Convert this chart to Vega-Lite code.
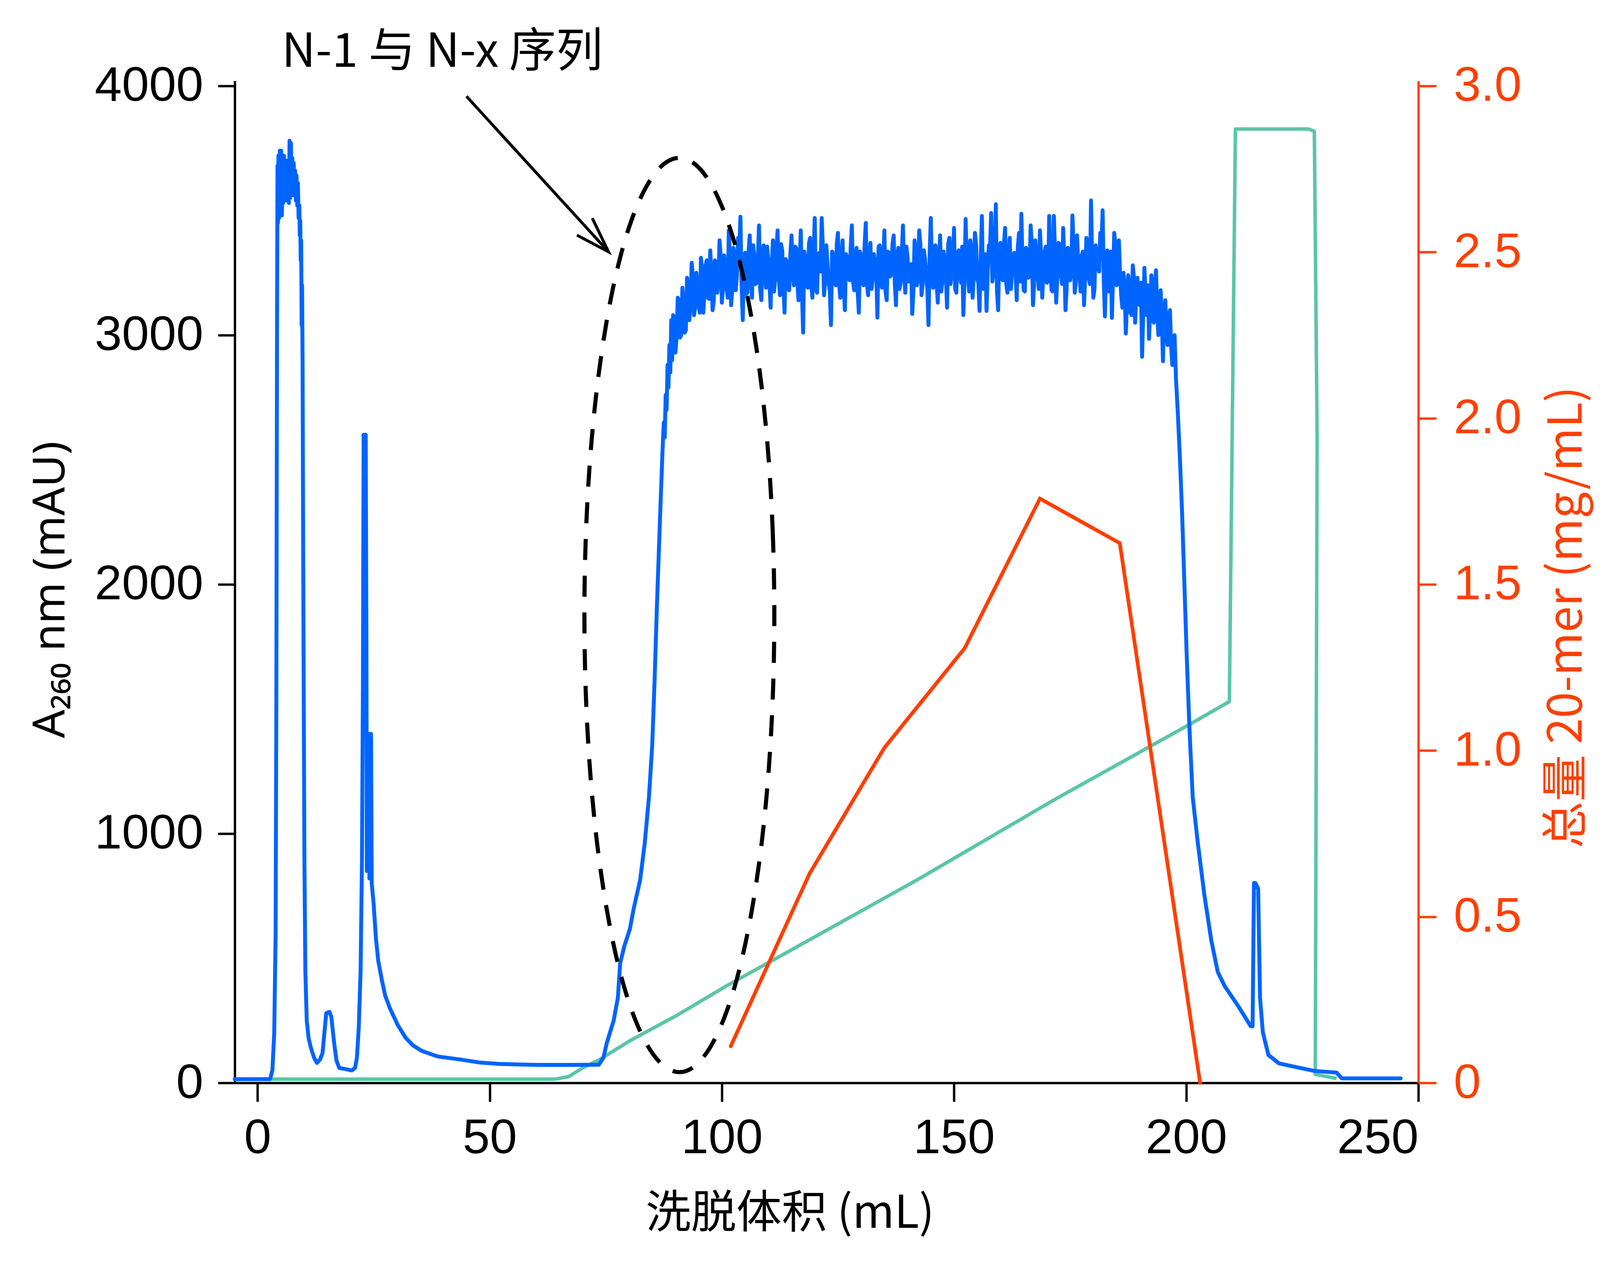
{
"$schema": "https://vega.github.io/schema/vega-lite/v6.json",
"width": 3030, "height": 2565,
"autosize": {"type": "none"},
"padding": {"left": 601, "top": 207, "right": 465, "bottom": 479},
"background": "white",
"config": {"view": {"stroke": null}, "axis": {"grid": false}},
"datasets": {
"blue": [
{"x":-4.9,"y":15},{"x":2.7,"y":15},{"x":3.2,"y":50},{"x":3.6,"y":200},{"x":3.9,"y":600},{"x":4.05,"y":1500},{"x":4.2,"y":3000},{"x":4.3,"y":3680},{"x":4.4,"y":3450},{"x":4.5,"y":3720},{"x":4.65,"y":3470},{"x":4.8,"y":3740},{"x":4.95,"y":3500},{"x":5.1,"y":3740},{"x":5.25,"y":3480},{"x":5.4,"y":3700},{"x":5.55,"y":3530},{"x":5.7,"y":3720},{"x":5.85,"y":3560},{"x":6.0,"y":3680},{"x":6.15,"y":3540},{"x":6.3,"y":3700},{"x":6.45,"y":3580},{"x":6.6,"y":3660},{"x":6.75,"y":3530},{"x":6.9,"y":3780},{"x":7.05,"y":3550},{"x":7.2,"y":3770},{"x":7.35,"y":3560},{"x":7.5,"y":3710},{"x":7.65,"y":3580},{"x":7.8,"y":3690},{"x":7.95,"y":3560},{"x":8.1,"y":3660},{"x":8.25,"y":3540},{"x":8.4,"y":3640},{"x":8.55,"y":3520},{"x":8.7,"y":3610},{"x":8.85,"y":3470},{"x":9.0,"y":3520},{"x":9.1,"y":3400},{"x":9.2,"y":3460},{"x":9.3,"y":3300},{"x":9.4,"y":3380},{"x":9.5,"y":3040},{"x":9.6,"y":3200},{"x":9.7,"y":2900},{"x":9.9,"y":1800},{"x":10.1,"y":900},{"x":10.3,"y":450},{"x":10.6,"y":250},{"x":11.0,"y":180},{"x":11.5,"y":140},{"x":12.2,"y":100},{"x":12.8,"y":80},{"x":13.5,"y":95},{"x":14.0,"y":120},{"x":14.4,"y":200},{"x":14.8,"y":280},{"x":15.5,"y":285},{"x":15.9,"y":265},{"x":16.5,"y":160},{"x":17.0,"y":90},{"x":17.6,"y":60},{"x":19.0,"y":55},{"x":20.3,"y":50},{"x":21.0,"y":60},{"x":21.4,"y":100},{"x":21.8,"y":220},{"x":22.2,"y":450},{"x":22.5,"y":900},{"x":22.7,"y":1600},{"x":22.85,"y":2600},{"x":23.3,"y":2600},{"x":23.45,"y":1800},{"x":23.55,"y":850},{"x":23.7,"y":1300},{"x":23.8,"y":900},{"x":23.95,"y":1400},{"x":24.1,"y":820},{"x":24.25,"y":1400},{"x":24.45,"y":1400},{"x":24.6,"y":800},{"x":25.0,"y":720},{"x":25.5,"y":580},{"x":26.0,"y":490},{"x":26.8,"y":410},{"x":27.5,"y":350},{"x":28.5,"y":300},{"x":30.2,"y":232},{"x":31.9,"y":181},{"x":33.5,"y":150},{"x":35.4,"y":128},{"x":38.8,"y":106},{"x":43.9,"y":93},{"x":47.7,"y":82},{"x":52,"y":76},{"x":60,"y":72},{"x":68,"y":72},{"x":73.5,"y":73},{"x":74.5,"y":101},{"x":75.2,"y":159},{"x":76.7,"y":250},{"x":77.6,"y":341},{"x":78.1,"y":480},{"x":79.0,"y":549},{"x":80.2,"y":618},{"x":81.0,"y":698},{"x":82.4,"y":814},{"x":83.4,"y":963},{"x":84.3,"y":1147},{"x":85.0,"y":1354},{"x":85.5,"y":1607},{"x":86.0,"y":1906},{"x":86.7,"y":2274},{"x":87.2,"y":2526},{"x":87.5,"y":2650},{"x":87.7,"y":2590},{"x":87.9,"y":2760},{"x":88.1,"y":2700},{"x":88.3,"y":2880},{"x":88.5,"y":2790},{"x":88.7,"y":2960},{"x":88.9,"y":2850},{"x":89.1,"y":3060},{"x":89.3,"y":2900},
{"x":89.5,"y":3080},{"x":89.75,"y":3070},{"x":90.0,"y":2930},{"x":90.25,"y":2990},{"x":90.5,"y":3150},{"x":90.75,"y":3140},{"x":91.0,"y":2990},{"x":91.25,"y":3000},{"x":91.5,"y":3190},{"x":91.75,"y":3120},{"x":92.0,"y":3010},{"x":92.25,"y":3020},{"x":92.5,"y":3230},{"x":92.75,"y":3180},{"x":93.0,"y":3060},{"x":93.25,"y":3130},{"x":93.5,"y":3290},{"x":93.75,"y":3240},{"x":94.0,"y":3080},{"x":94.25,"y":3110},{"x":94.5,"y":3250},{"x":94.75,"y":3190},{"x":95.0,"y":3120},{"x":95.25,"y":3090},{"x":95.5,"y":3310},{"x":95.75,"y":3260},{"x":96.0,"y":3090},{"x":96.25,"y":3165},{"x":96.5,"y":3280},{"x":96.75,"y":3300},{"x":97.0,"y":3150},{"x":97.25,"y":3145},{"x":97.5,"y":3340},{"x":97.75,"y":3250},{"x":98.0,"y":3100},{"x":98.25,"y":3135},{"x":98.5,"y":3300},{"x":98.75,"y":3280},{"x":99.0,"y":3170},{"x":99.25,"y":3215},{"x":99.5,"y":3380},{"x":99.75,"y":3320},
{"x":100.0,"y":3130},{"x":100.25,"y":3185},{"x":100.5,"y":3320},{"x":100.75,"y":3260},{"x":101.0,"y":3200},{"x":101.25,"y":3150},{"x":101.5,"y":3420},{"x":101.75,"y":3310},{"x":102.0,"y":3120},{"x":102.25,"y":3185},{"x":102.5,"y":3350},{"x":102.75,"y":3310},{"x":103.0,"y":3180},{"x":103.25,"y":3240},{"x":103.5,"y":3390},{"x":103.75,"y":3340},{"x":104.0,"y":3475},{"x":104.25,"y":3200},{"x":104.5,"y":3060},{"x":104.75,"y":3275},{"x":105.0,"y":3330},{"x":105.25,"y":3165},{"x":105.5,"y":3170},{"x":105.75,"y":3335},{"x":106.0,"y":3400},{"x":106.25,"y":3235},{"x":106.5,"y":3150},{"x":106.75,"y":3360},{"x":107.0,"y":3310},{"x":107.25,"y":3205},{"x":107.5,"y":3210},{"x":107.75,"y":3305},{"x":108.0,"y":3440},{"x":108.25,"y":3185},{"x":108.5,"y":3140},{"x":108.75,"y":3325},{"x":109.0,"y":3360},{"x":109.25,"y":3255},{"x":109.5,"y":3190},{"x":109.75,"y":3355},
{"x":110.0,"y":3300},{"x":110.25,"y":3215},{"x":110.5,"y":3110},{"x":110.75,"y":3285},{"x":111.0,"y":3380},{"x":111.25,"y":3175},{"x":111.5,"y":3230},{"x":111.75,"y":3335},{"x":112.0,"y":3420},{"x":112.25,"y":3235},{"x":112.5,"y":3160},{"x":112.75,"y":3365},{"x":113.0,"y":3340},{"x":113.25,"y":3205},{"x":113.5,"y":3090},{"x":113.75,"y":3305},{"x":114.0,"y":3290},{"x":114.25,"y":3185},{"x":114.5,"y":3180},{"x":114.75,"y":3325},{"x":115.0,"y":3400},{"x":115.25,"y":3255},{"x":115.5,"y":3200},{"x":115.75,"y":3355},{"x":116.0,"y":3350},{"x":116.25,"y":3215},{"x":116.5,"y":3140},{"x":116.75,"y":3285},{"x":117.0,"y":3420},{"x":117.25,"y":3175},{"x":117.5,"y":3010},{"x":117.75,"y":3335},{"x":118.0,"y":3300},{"x":118.25,"y":3235},{"x":118.5,"y":3190},{"x":118.75,"y":3365},{"x":119.0,"y":3390},{"x":119.25,"y":3205},{"x":119.5,"y":3150},{"x":119.75,"y":3305},
{"x":120.0,"y":3470},{"x":120.25,"y":3185},{"x":120.5,"y":3170},{"x":120.75,"y":3325},{"x":121.0,"y":3330},{"x":121.25,"y":3255},{"x":121.5,"y":3470},{"x":121.75,"y":3355},{"x":122.0,"y":3160},{"x":122.25,"y":3215},{"x":122.5,"y":3360},{"x":122.75,"y":3285},{"x":123.0,"y":3210},{"x":123.25,"y":3175},{"x":123.5,"y":3040},{"x":123.75,"y":3335},{"x":124.0,"y":3320},{"x":124.25,"y":3235},{"x":124.5,"y":3200},{"x":124.75,"y":3365},{"x":125.0,"y":3410},{"x":125.25,"y":3205},{"x":125.5,"y":3150},{"x":125.75,"y":3305},{"x":126.0,"y":3380},{"x":126.25,"y":3185},{"x":126.5,"y":3100},{"x":126.75,"y":3325},{"x":127.0,"y":3300},{"x":127.25,"y":3255},{"x":127.5,"y":3220},{"x":127.75,"y":3355},{"x":128.0,"y":3440},{"x":128.25,"y":3215},{"x":128.5,"y":3180},{"x":128.75,"y":3285},{"x":129.0,"y":3350},{"x":129.25,"y":3175},{"x":129.5,"y":3090},{"x":129.75,"y":3335},
{"x":130.0,"y":3310},{"x":130.25,"y":3235},{"x":130.5,"y":3200},{"x":130.75,"y":3365},{"x":131.0,"y":3450},{"x":131.25,"y":3205},{"x":131.5,"y":3160},{"x":131.75,"y":3305},{"x":132.0,"y":3370},{"x":132.25,"y":3185},{"x":132.5,"y":3230},{"x":132.75,"y":3325},{"x":133.0,"y":3290},{"x":133.25,"y":3255},{"x":133.5,"y":3070},{"x":133.75,"y":3355},{"x":134.0,"y":3360},{"x":134.25,"y":3215},{"x":134.5,"y":3190},{"x":134.75,"y":3285},{"x":135.0,"y":3420},{"x":135.25,"y":3175},{"x":135.5,"y":3140},{"x":135.75,"y":3335},{"x":136.0,"y":3330},{"x":136.25,"y":3235},{"x":136.5,"y":3250},{"x":136.75,"y":3365},{"x":137.0,"y":3400},{"x":137.25,"y":3205},{"x":137.5,"y":3120},{"x":137.75,"y":3305},{"x":138.0,"y":3350},{"x":138.25,"y":3185},{"x":138.5,"y":3210},{"x":138.75,"y":3325},{"x":139.0,"y":3440},{"x":139.25,"y":3255},{"x":139.5,"y":3170},{"x":139.75,"y":3355},
{"x":140.0,"y":3310},{"x":140.25,"y":3215},{"x":140.5,"y":3230},{"x":140.75,"y":3285},{"x":141.0,"y":3085},{"x":141.25,"y":3175},{"x":141.5,"y":3380},{"x":141.75,"y":3335},{"x":142.0,"y":3200},{"x":142.25,"y":3235},{"x":142.5,"y":3420},{"x":142.75,"y":3365},{"x":143.0,"y":3160},{"x":143.25,"y":3205},{"x":143.5,"y":3340},{"x":143.75,"y":3305},{"x":144.0,"y":3240},{"x":144.25,"y":3185},{"x":144.5,"y":3040},{"x":144.75,"y":3325},{"x":145.0,"y":3470},{"x":145.25,"y":3255},{"x":145.5,"y":3190},{"x":145.75,"y":3355},{"x":146.0,"y":3360},{"x":146.25,"y":3215},{"x":146.5,"y":3130},{"x":146.75,"y":3285},{"x":147.0,"y":3400},{"x":147.25,"y":3175},{"x":147.5,"y":3220},{"x":147.75,"y":3335},{"x":148.0,"y":3300},{"x":148.25,"y":3235},{"x":148.5,"y":3110},{"x":148.75,"y":3365},{"x":149.0,"y":3390},{"x":149.25,"y":3205},{"x":149.5,"y":3250},{"x":149.75,"y":3305},
{"x":150.0,"y":3430},{"x":150.25,"y":3185},{"x":150.5,"y":3170},{"x":150.75,"y":3325},{"x":151.0,"y":3340},{"x":151.25,"y":3255},{"x":151.5,"y":3210},{"x":151.75,"y":3355},{"x":152.0,"y":3080},{"x":152.25,"y":3215},{"x":152.5,"y":3466},{"x":152.75,"y":3285},{"x":153.0,"y":3240},{"x":153.25,"y":3175},{"x":153.5,"y":3380},{"x":153.75,"y":3335},{"x":154.0,"y":3150},{"x":154.25,"y":3235},{"x":154.5,"y":3410},{"x":154.75,"y":3365},{"x":155.0,"y":3230},{"x":155.25,"y":3205},{"x":155.5,"y":3097},{"x":155.75,"y":3305},{"x":156.0,"y":3478},{"x":156.25,"y":3185},{"x":156.5,"y":3200},{"x":156.75,"y":3325},{"x":157.0,"y":3097},{"x":157.25,"y":3255},{"x":157.5,"y":3360},{"x":157.75,"y":3355},{"x":158.0,"y":3490},{"x":158.25,"y":3215},{"x":158.5,"y":3250},{"x":158.75,"y":3285},{"x":159.0,"y":3525},{"x":159.25,"y":3175},{"x":159.5,"y":3100},{"x":159.75,"y":3335},
{"x":160.0,"y":3370},{"x":160.25,"y":3235},{"x":160.5,"y":3220},{"x":160.75,"y":3365},{"x":161.0,"y":3430},{"x":161.25,"y":3205},{"x":161.5,"y":3170},{"x":161.75,"y":3305},{"x":162.0,"y":3390},{"x":162.25,"y":3185},{"x":162.5,"y":3260},{"x":162.75,"y":3325},{"x":163.0,"y":3330},{"x":163.25,"y":3255},{"x":163.5,"y":3140},{"x":163.75,"y":3355},{"x":164.0,"y":3410},{"x":164.25,"y":3215},{"x":164.5,"y":3487},{"x":164.75,"y":3285},{"x":165.0,"y":3180},{"x":165.25,"y":3175},{"x":165.5,"y":3350},{"x":165.75,"y":3335},{"x":166.0,"y":3230},{"x":166.25,"y":3235},{"x":166.5,"y":3440},{"x":166.75,"y":3365},{"x":167.0,"y":3120},{"x":167.25,"y":3205},{"x":167.5,"y":3380},{"x":167.75,"y":3305},{"x":168.0,"y":3260},{"x":168.25,"y":3185},{"x":168.5,"y":3420},{"x":168.75,"y":3325},{"x":169.0,"y":3150},{"x":169.25,"y":3255},{"x":169.5,"y":3330},{"x":169.75,"y":3355},
{"x":170.0,"y":3210},{"x":170.25,"y":3215},{"x":170.5,"y":3478},{"x":170.75,"y":3285},{"x":171.0,"y":3180},{"x":171.25,"y":3175},{"x":171.5,"y":3478},{"x":171.75,"y":3335},{"x":172.0,"y":3130},{"x":172.25,"y":3235},{"x":172.5,"y":3370},{"x":172.75,"y":3365},{"x":173.0,"y":3250},{"x":173.25,"y":3205},{"x":173.5,"y":3430},{"x":173.75,"y":3305},{"x":174.0,"y":3100},{"x":174.25,"y":3185},{"x":174.5,"y":3350},{"x":174.75,"y":3325},{"x":175.0,"y":3220},{"x":175.25,"y":3255},{"x":175.5,"y":3480},{"x":175.75,"y":3355},{"x":176.0,"y":3170},{"x":176.25,"y":3215},{"x":176.5,"y":3400},{"x":176.75,"y":3285},{"x":177.0,"y":3260},{"x":177.25,"y":3175},{"x":177.5,"y":3320},{"x":177.75,"y":3335},{"x":178.0,"y":3120},{"x":178.25,"y":3235},{"x":178.5,"y":3390},{"x":178.75,"y":3365},{"x":179.0,"y":3230},{"x":179.25,"y":3205},{"x":179.5,"y":3540},{"x":179.75,"y":3305},
{"x":180.0,"y":3150},{"x":180.25,"y":3185},{"x":180.5,"y":3360},{"x":180.75,"y":3325},{"x":181.0,"y":3270},{"x":181.25,"y":3255},{"x":181.5,"y":3410},{"x":181.75,"y":3355},{"x":182.0,"y":3501},{"x":182.25,"y":3215},{"x":182.5,"y":3075},{"x":182.75,"y":3285},{"x":183.0,"y":3340},{"x":183.25,"y":3175},{"x":183.5,"y":3220},{"x":183.75,"y":3335},{"x":184.0,"y":3069},{"x":184.25,"y":3235},{"x":184.5,"y":3410},{"x":184.75,"y":3365},{"x":185.0,"y":3200},{"x":185.25,"y":3205},{"x":185.5,"y":3380},{"x":185.75,"y":3250},{"x":186.0,"y":3160},{"x":186.25,"y":3110},{"x":186.5,"y":3250},{"x":186.75,"y":3180},{"x":187.0,"y":3006},{"x":187.25,"y":3130},{"x":187.5,"y":3240},{"x":187.75,"y":3200},{"x":188.0,"y":3090},{"x":188.25,"y":3080},{"x":188.5,"y":3280},{"x":188.75,"y":3230},{"x":189.0,"y":3050},{"x":189.25,"y":3160},{"x":189.5,"y":3230},{"x":189.75,"y":3130},
{"x":190.0,"y":3120},{"x":190.25,"y":3210},{"x":190.5,"y":2913},{"x":190.75,"y":3090},{"x":191.0,"y":3270},{"x":191.25,"y":3170},{"x":191.5,"y":3080},{"x":191.75,"y":3200},{"x":192.0,"y":2985},{"x":192.25,"y":3110},{"x":192.5,"y":3240},{"x":192.75,"y":3160},{"x":193.0,"y":3050},{"x":193.25,"y":3190},{"x":193.5,"y":3260},{"x":193.75,"y":3100},{"x":194.0,"y":3000},{"x":194.25,"y":3150},{"x":194.5,"y":3180},{"x":194.75,"y":3060},{"x":195.0,"y":2895},{"x":195.25,"y":3090},{"x":195.5,"y":3140},{"x":195.75,"y":3010},{"x":196.0,"y":2960},{"x":196.25,"y":3060},{"x":196.5,"y":3100},{"x":196.75,"y":2960},{"x":197.0,"y":2880},{"x":197.25,"y":2990},{"x":197.5,"y":3000},
{"x":197.8,"y":2825},{"x":198.2,"y":2687},{"x":198.6,"y":2526},{"x":199.1,"y":2296},{"x":199.5,"y":2066},{"x":200.1,"y":1721},{"x":200.7,"y":1422},{"x":201.4,"y":1147},{"x":202.5,"y":963},{"x":203.9,"y":756},{"x":205.4,"y":572},{"x":206.8,"y":445},{"x":208.3,"y":388},{"x":211.2,"y":308},{"x":213.9,"y":227},{"x":214.3,"y":227},{"x":214.6,"y":802},{"x":214.9,"y":802},{"x":215.5,"y":779},{"x":215.9,"y":342},{"x":216.5,"y":204},{"x":217.7,"y":112},{"x":220.0,"y":78},{"x":223.0,"y":66},{"x":227.6,"y":48},{"x":232.4,"y":41},{"x":233.5,"y":18},{"x":246.2,"y":18}
],
"green": [
{"x":3.0,"y":15},{"x":64,"y":15},{"x":67,"y":25},{"x":70,"y":60},{"x":73.5,"y":92},{"x":80.4,"y":171},{"x":90.6,"y":274},{"x":100.9,"y":388},{"x":113,"y":513},{"x":142.3,"y":817},{"x":171.6,"y":1136},{"x":200.9,"y":1440},{"x":209.3,"y":1530},{"x":210.6,"y":3827},{"x":226.3,"y":3827},{"x":227.6,"y":3818},{"x":228.2,"y":2583},{"x":227.8,"y":34},{"x":232.4,"y":18}
],
"orange": [
{"x":101.9,"y":0.11},{"x":118.9,"y":0.63},{"x":134.98,"y":1.008},{"x":152.3,"y":1.308},{"x":168.5,"y":1.758},{"x":185.7,"y":1.624},{"x":203.0,"y":0.0}
],
"ellipse": [
{"x":111.30,"y":1877},{"x":110.99,"y":2195},{"x":110.07,"y":2504},{"x":108.56,"y":2794},{"x":106.51,"y":3056},{"x":104.00,"y":3282},{"x":101.08,"y":3465},{"x":97.84,"y":3600},{"x":94.40,"y":3683},{"x":90.85,"y":3711},{"x":87.30,"y":3683},{"x":83.86,"y":3600},{"x":80.62,"y":3465},{"x":77.70,"y":3282},{"x":75.19,"y":3056},{"x":73.14,"y":2794},{"x":71.63,"y":2504},{"x":70.71,"y":2195},{"x":70.40,"y":1877},{"x":70.71,"y":1559},{"x":71.63,"y":1250},{"x":73.14,"y":960},{"x":75.19,"y":698},{"x":77.70,"y":472},{"x":80.62,"y":289},{"x":83.86,"y":154},{"x":87.30,"y":71},{"x":90.85,"y":43},{"x":94.40,"y":71},{"x":97.84,"y":154},{"x":101.08,"y":289},{"x":104.00,"y":472},{"x":106.51,"y":698},{"x":108.56,"y":960},{"x":110.07,"y":1250},{"x":110.99,"y":1559}
],
"arrow": [{"x":45.0,"y":3958},{"x":75.6,"y":3334}],
"arrowhead": [{"x":68.8,"y":3401},{"x":75.6,"y":3334},{"x":72.1,"y":3469}],
"label": [{"x":39.8,"y":4133,"t":"N-1 与 N-x 序列"}]
},
"encoding": {
"x": {"field": "x", "type": "quantitative",
"scale": {"domain": [-4.9, 250], "nice": false, "zero": false},
"axis": {"values": [0, 50, 100, 150, 200, 250], "format": "d", "title": "洗脱体积 (mL)",
"labelFont": "Liberation Sans", "labelFontSize": 125, "labelColor": "black", "labelPadding": 32, "labelLimit": 2000,
"tickSize": 48, "tickWidth": 6, "tickColor": "black", "domainColor": "black", "domainWidth": 6,
"titleFont": "Noto Sans CJK SC", "titleFontSize": 116, "titleFontWeight": "normal", "titleColor": "black",
"titleBaseline": "top", "titleAlign": "center", "titleX": 1421, "titleY": 278}}
},
"layer": [
{
"encoding": {"y": {"field": "y", "type": "quantitative",
"scale": {"domain": [0, 4020], "nice": false, "zero": false},
"axis": {"orient": "left", "values": [0, 1000, 2000, 3000, 4000], "format": "d", "title": "A₂₆₀ nm (mAU)",
"labelFont": "Liberation Sans", "labelFontSize": 125, "labelColor": "black", "labelPadding": 38, "labelLimit": 2000,
"tickSize": 43, "tickWidth": 6, "tickColor": "black", "domainColor": "black", "domainWidth": 6,
"titleFont": "Noto Sans, Noto Sans CJK SC, DejaVu Sans", "titleFontSize": 114, "titleFontWeight": "normal", "titleColor": "black",
"titleAngle": 270, "titleBaseline": "bottom", "titleAlign": "center", "titleX": -413, "titleY": 1302}}},
"layer": [
{"data": {"name": "green"}, "mark": {"type": "line", "color": "#5BC5A7", "strokeWidth": 9, "strokeJoin": "round"}, "encoding": {"order": {"value": null}}},
{"data": {"name": "blue"}, "mark": {"type": "line", "color": "#0064FF", "strokeWidth": 10, "strokeJoin": "round", "strokeCap": "round"}, "encoding": {"order": {"value": null}}}
]
},
{
"data": {"name": "orange"},
"mark": {"type": "line", "color": "#FF3F00", "strokeWidth": 9.5, "strokeCap": "round"},
"encoding": {"y": {"field": "y", "type": "quantitative",
"scale": {"domain": [0, 3.015], "nice": false, "zero": false},
"axis": {"orient": "right", "values": [0, 0.5, 1, 1.5, 2, 2.5, 3], "labelExpr": "datum.value == 0 ? '0' : format(datum.value, '.1f')",
"title": "总量 20-mer (mg/mL)",
"labelFont": "Liberation Sans", "labelFontSize": 125, "labelColor": "#FF3F00", "labelPadding": 44, "labelLimit": 2000,
"tickSize": 46, "tickWidth": 6, "tickColor": "#FF3F00", "domainColor": "#FF3F00", "domainWidth": 6,
"titleFont": "Noto Sans CJK SC", "titleFontSize": 120, "titleFontWeight": "normal", "titleColor": "#FF3F00",
"titleAngle": 270, "titleBaseline": "top", "titleAlign": "center", "titleX": 322, "titleY": 1373}},
"order": {"value": null}}
},
{
"encoding": {"y": {"field": "y", "type": "quantitative",
"scale": {"domain": [0, 4020], "nice": false, "zero": false}, "axis": null}},
"layer": [
{"data": {"name": "ellipse"}, "mark": {"type": "line", "color": "black", "strokeWidth": 10.5, "interpolate": "cardinal-closed", "strokeDash": [54, 40]}, "encoding": {"order": {"value": null}}},
{"data": {"name": "arrow"}, "mark": {"type": "line", "color": "black", "strokeWidth": 7.5}, "encoding": {"order": {"value": null}}},
{"data": {"name": "arrowhead"}, "mark": {"type": "line", "color": "black", "strokeWidth": 7.5, "strokeJoin": "miter"}, "encoding": {"order": {"value": null}}},
{"data": {"name": "label"}, "mark": {"type": "text", "font": "Noto Sans CJK SC", "fontSize": 120, "align": "center", "baseline": "middle", "color": "black"}, "encoding": {"text": {"field": "t"}}}
]
}
],
"resolve": {"scale": {"y": "independent"}, "axis": {"y": "independent"}}
}
